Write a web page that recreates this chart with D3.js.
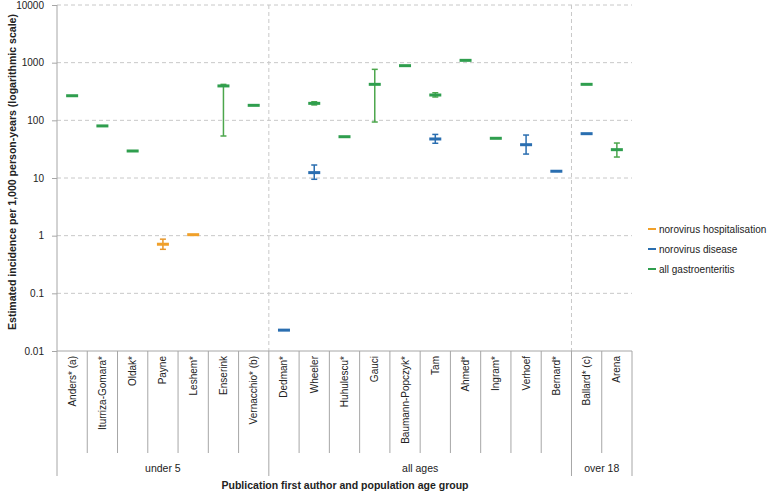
<!DOCTYPE html>
<html>
<head>
<meta charset="utf-8">
<script src="https://cdn.jsdelivr.net/npm/d3@7"></script>
<style>
  html, body { margin: 0; padding: 0; background: #fff; }
  svg { display: block; }
  text { font-family: "Liberation Sans", Arial, sans-serif; fill: #222; }
</style>
</head>
<body>
<svg id="chart" width="778" height="493"></svg>
<script>
// ---------- data ----------
const categories = ["Anders* (a)", "Iturriza-Gomara*", "Oldak*", "Payne", "Leshem*", "Enserink", "Vernacchio* (b)",
  "Dedman*", "Wheeler", "Huhulescu*", "Gauci", "Baumann-Popczyk*", "Tam", "Ahmed*", "Ingram*", "Verhoef", "Bernard*",
  "Ballard* (c)", "Arena"];
const groupNames = ["under 5", "all ages", "over 18"];
const groupSizes = [7, 10, 2];

const seriesNames = ["norovirus hospitalisation", "norovirus disease", "all gastroenteritis"];

const hospValues = [null, null, null, 0.71, 1.04, null, null, null, null, null, null, null, null, null, null, null, null, null, null];
const hospLower  = [null, null, null, 0.58, null, null, null, null, null, null, null, null, null, null, null, null, null, null, null];
const hospUpper  = [null, null, null, 0.87, null, null, null, null, null, null, null, null, null, null, null, null, null, null, null];

const diseaseValues = [null, null, null, null, null, null, null, 0.023, 12.4, null, null, null, 47.5, null, null, 37.8, 13.1, 58.7, null];
const diseaseLower  = [null, null, null, null, null, null, null, null, 9.5, null, null, null, 40, null, null, 26, null, null, null];
const diseaseUpper  = [null, null, null, null, null, null, null, null, 16.8, null, null, null, 57, null, null, 55.6, null, null, null];

const gastroValues = [267, 80, 29.4, null, null, 395, 182, null, 197, 52, 421, 887, 275, 1097, 48.8, null, null, 421, 31];
const gastroLower  = [null, null, null, null, null, 53.5, null, null, 185, null, 93.5, null, 254, null, null, null, null, null, 23.1];
const gastroUpper  = [null, null, null, null, null, 420, null, null, 210, null, 766, null, 301, null, null, null, null, null, 40.4];

const yTicks = [0.01, 0.1, 1, 10, 100, 1000, 10000];
const yTickLabels = ["0.01", "0.1", "1", "10", "100", "1000", "10000"];

(function () {
// ---------- layout ----------
const svg = d3.select("#chart");
const pLeft = 57, pRight = 632, pTop = 5, pBottom = 351;
const colors = ["#F0A02A", "#2A6EB0", "#2F9E4E"];
const barColors = ["#E8972A", "#2A6EB0", "#4CA64C"];

const x = d3.scaleBand().domain(categories).range([pLeft, pRight]).padding(0);
const y = d3.scaleLog().domain([0.01, 10000]).range([pBottom, pTop]);

// gridlines
svg.append("g").selectAll("line").data(yTicks.slice(1)).join("line")
  .attr("x1", pLeft).attr("x2", pRight)
  .attr("y1", d => y(d)).attr("y2", d => y(d))
  .attr("stroke", "#c8c8c8").attr("stroke-width", 1).attr("stroke-dasharray", "4,3");

// group boundaries
const groupStarts = [];
let acc = 0;
groupSizes.forEach(s => { groupStarts.push(acc); acc += s; });
const boundaryX = groupSizes.map((s, i) => x(categories[groupStarts[i]]));
boundaryX.push(pRight);

// dashed vertical separators inside plot
svg.append("g").selectAll("line").data(boundaryX.slice(1, -1)).join("line")
  .attr("x1", d => d).attr("x2", d => d).attr("y1", pTop).attr("y2", pBottom)
  .attr("stroke", "#c8c8c8").attr("stroke-dasharray", "4,3");

// y axis
const yAxis = d3.axisLeft(y).tickValues(yTicks).tickFormat((d, i) => yTickLabels[i]).tickSize(5).tickPadding(8);
const ya = svg.append("g").attr("transform", `translate(${pLeft},0)`).call(yAxis);
ya.select(".domain").attr("stroke", "#a6a6a6").attr("d", `M0,${pTop}V${pBottom}`);
ya.selectAll(".tick line").attr("stroke", "#a6a6a6");
ya.selectAll(".tick text").attr("font-size", 10).attr("fill", "#222")
  .attr("font-family", "'Liberation Sans', Arial, sans-serif");

// x axis line
svg.append("line").attr("x1", pLeft).attr("x2", pRight).attr("y1", pBottom).attr("y2", pBottom)
  .attr("stroke", "#a6a6a6");

// category separators (below axis)
const catEdges = categories.map(c => x(c)).concat([pRight]);
svg.append("g").selectAll("line").data(catEdges).join("line")
  .attr("x1", d => d).attr("x2", d => d)
  .attr("y1", pBottom)
  .attr("y2", d => boundaryX.some(b => Math.abs(b - d) < 0.5) ? 476 : 453)
  .attr("stroke", "#a6a6a6");

// category labels
svg.append("g").selectAll("text").data(categories).join("text")
  .attr("transform", d => `translate(${x(d) + x.bandwidth() / 2},356) rotate(-90)`)
  .attr("text-anchor", "end").attr("dy", "0.35em")
  .attr("font-size", 10).text(d => d);

// group labels
svg.append("g").selectAll("text").data(groupNames).join("text")
  .attr("x", (d, i) => (boundaryX[i] + boundaryX[i + 1]) / 2)
  .attr("y", 472).attr("text-anchor", "middle").attr("font-size", 10.5).text(d => d);

// axis titles
svg.append("text").attr("x", 345).attr("y", 489).attr("text-anchor", "middle")
  .attr("font-size", 10.5).attr("font-weight", "bold")
  .attr("textLength", 247).attr("lengthAdjust", "spacingAndGlyphs")
  .text("Publication first author and population age group");

svg.append("text").attr("transform", "translate(16,172) rotate(-90)")
  .attr("text-anchor", "middle").attr("font-size", 10.5).attr("font-weight", "bold")
  .attr("textLength", 316).attr("lengthAdjust", "spacingAndGlyphs")
  .text("Estimated incidence per 1,000 person-years (logarithmic scale)");

// ---------- series ----------
const series = [
  { values: hospValues, lower: hospLower, upper: hospUpper },
  { values: diseaseValues, lower: diseaseLower, upper: diseaseUpper },
  { values: gastroValues, lower: gastroLower, upper: gastroUpper }
];

series.forEach((s, si) => {
  const pts = categories.map((c, i) => ({ c, v: s.values[i], lo: s.lower[i], hi: s.upper[i] }))
    .filter(p => p.v != null);
  const g = svg.append("g");
  const cx = p => x(p.c) + x.bandwidth() / 2;
  const eb = pts.filter(p => p.lo != null);
  g.selectAll("line.err").data(eb).join("line").attr("class", "err")
    .attr("x1", cx).attr("x2", cx).attr("y1", p => y(p.lo)).attr("y2", p => y(p.hi))
    .attr("stroke", barColors[si]).attr("stroke-width", 1.5);
  g.selectAll("line.capLo").data(eb).join("line").attr("class", "capLo")
    .attr("x1", p => cx(p) - 3).attr("x2", p => cx(p) + 3).attr("y1", p => y(p.lo)).attr("y2", p => y(p.lo))
    .attr("stroke", barColors[si]).attr("stroke-width", 1.5);
  g.selectAll("line.capHi").data(eb).join("line").attr("class", "capHi")
    .attr("x1", p => cx(p) - 3).attr("x2", p => cx(p) + 3).attr("y1", p => y(p.hi)).attr("y2", p => y(p.hi))
    .attr("stroke", barColors[si]).attr("stroke-width", 1.5);
  g.selectAll("rect").data(pts).join("rect")
    .attr("x", p => cx(p) - 6).attr("y", p => y(p.v) - 1.5)
    .attr("width", 12).attr("height", 3).attr("fill", colors[si]);
});

// ---------- legend ----------
const lg = svg.append("g");
seriesNames.forEach((n, i) => {
  const ly = 229 + i * 20;
  lg.append("rect").attr("x", 648).attr("y", ly - 1).attr("width", 8).attr("height", 2).attr("fill", colors[i]);
  lg.append("text").attr("x", 659).attr("y", ly).attr("dy", "0.35em").attr("font-size", 10).text(n);
});
})();
</script>
</body>
</html>
